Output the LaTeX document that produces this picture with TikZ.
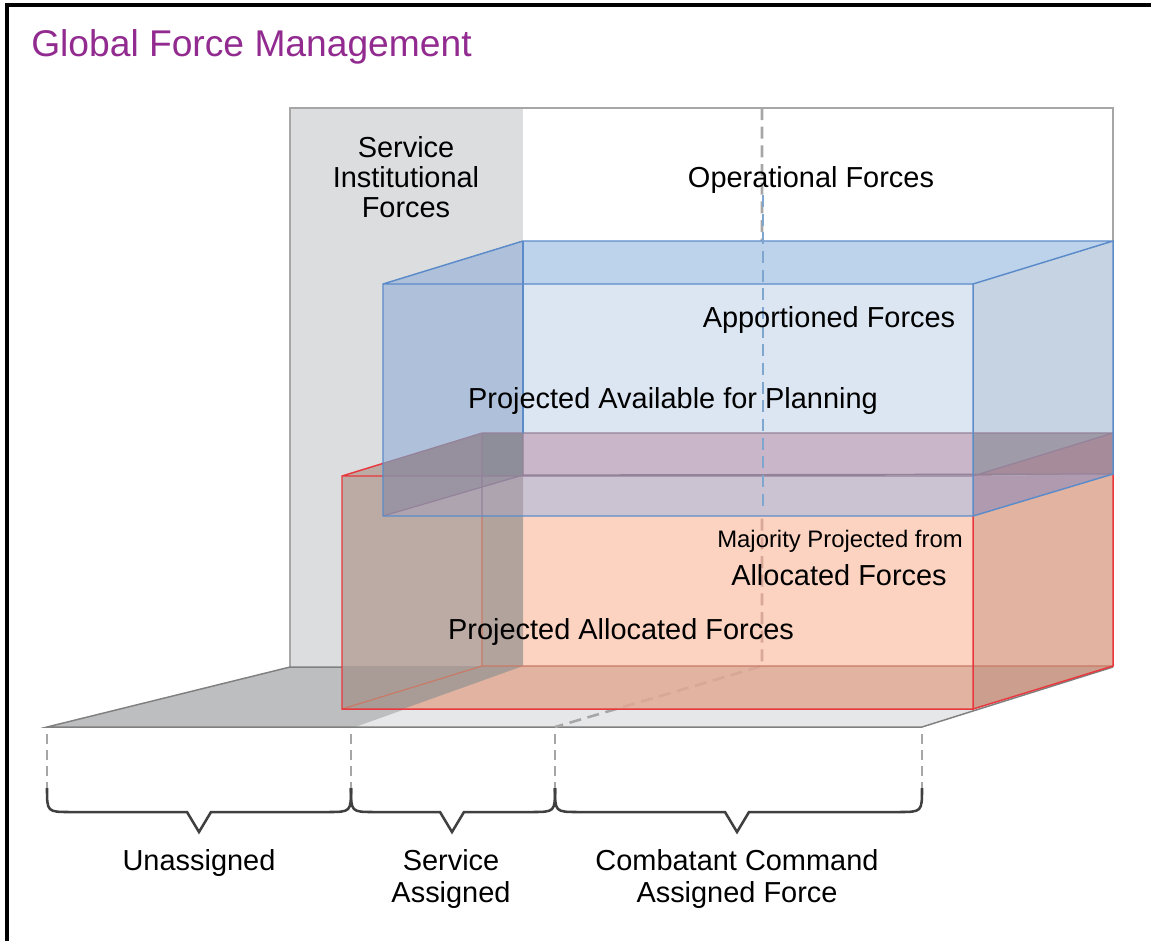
\documentclass[tikz,border=0pt]{standalone}
\usepackage{fontspec}
\setmainfont{Liberation Sans}
\definecolor{gfmpurple}{HTML}{922B8F}
\definecolor{wallgrey}{HTML}{DCDDDF}
\definecolor{floorlight}{HTML}{E6E7E8}
\definecolor{floordark}{HTML}{BDBEC0}
\definecolor{redfront}{HTML}{FCD3C1}
\definecolor{redside}{HTML}{E1B3A0}
\definecolor{redsidedark}{HTML}{CC9E8D}
\definecolor{redgrey}{HTML}{BCABA4}
\definecolor{redgreydark}{HTML}{B2A39C}
\definecolor{redfloor}{HTML}{A99C97}
\definecolor{bluetop}{HTML}{BDD3EC}
\definecolor{bluefront}{HTML}{DCE6F2}
\definecolor{blueside}{HTML}{C5D3E3}
\definecolor{bluegrey}{HTML}{AFC1DA}
\definecolor{ovtop}{HTML}{C9B6C8}
\definecolor{ovfront}{HTML}{CBC3D1}
\definecolor{ovsidea}{HTML}{A09BA8}
\definecolor{ovsideb}{HTML}{A68B9B}
\definecolor{ovsidec}{HTML}{B09AB0}
\definecolor{ovgreytop}{HTML}{96909E}
\definecolor{ovgreystrip}{HTML}{8D8E99}
\definecolor{ovgreya}{HTML}{9B94A2}
\definecolor{ovgreyb}{HTML}{ADA4B0}
\definecolor{rededge}{HTML}{E8383D}
\definecolor{redhid}{HTML}{C87A66}
\definecolor{blueedge}{HTML}{5B8BC9}
\definecolor{muted}{HTML}{94829A}
\definecolor{guidegrey}{HTML}{A6A6A6}
\definecolor{reddash}{HTML}{D8A797}
\definecolor{bluedash}{HTML}{7EA6CF}
\definecolor{bracecol}{HTML}{404040}
\tikzset{
  lbl/.style={font=\fontsize{21.7}{22.5}\selectfont, inner sep=0pt, align=center},
  guide/.style={draw=guidegrey, line width=1.9pt, dash pattern=on 9pt off 5pt},
  redline/.style={draw=rededge, line width=1.1pt},
  blueline/.style={draw=blueedge, line width=1.1pt},
  hidline/.style={draw=muted, line width=0.9pt},
  cbrace/.style={draw=bracecol, line width=1.9pt, line join=miter}
}
\begin{document}
\begin{tikzpicture}[x=0.75pt,y=-0.75pt]
\useasboundingbox (0,0) rectangle (1151,940);
\draw[line width=2.5pt] (7,960) -- (7,5) -- (1170,5);
\node[anchor=base west, inner sep=0pt, text=gfmpurple, font=\fontsize{27.9}{30}\selectfont] (title) at (31,56) {Global Force Management};

% back wall and floor
\fill[wallgrey] (290,108) rectangle (523,667);
\draw[guidegrey, line width=0.9pt] (290,667) -- (290,108) -- (1113,108) -- (1113,241);
\fill[floorlight] (47,727) -- (290,667) -- (1113,667) -- (922,727) -- cycle;
\fill[floordark] (47,727) -- (290,667) -- (523,667) -- (355,727) -- cycle;
\draw[gray, line width=1.1pt] (1113,667) -- (922,727) -- (47,727) -- (290,667) -- (1113,667);
\draw[guide] (762,108) -- (762,666) -- (555,727);

% allocated box
\fill[redfront] (342,476) rectangle (973,709);
\fill[redside] (973,476) -- (1113,433) -- (1113,666) -- (973,709) -- cycle;
\fill[redside] (482,666) -- (973,666) -- (973,709) -- (342,709) -- cycle;
\fill[redsidedark] (973,666) -- (1113,666) -- (973,709) -- cycle;
\fill[redgrey] (342,476) -- (482,433) -- (523,433) -- (523,666) -- (342,666) -- cycle;
\fill[redgreydark] (482,433) rectangle (523,666);
\fill[redfloor] (342,666) -- (523,666) -- (403,709) -- (342,709) -- cycle;
\begin{scope}
  \clip (342,476) -- (482,433) -- (1113,433) -- (1113,666) -- (973,709) -- (342,709) -- cycle;
  \draw[guide, draw=reddash] (762,108) -- (762,666) -- (555,727);
\end{scope}
\draw[redhid, line width=0.9pt] (482,433) -- (482,666) -- (1113,666) (482,666) -- (342,709);
\draw[redline] (342,476) rectangle (973,709) (342,476) -- (482,433) -- (1113,433) -- (1113,666) -- (973,709) (973,476) -- (1113,433);

% apportioned box
\fill[bluetop] (383,284) -- (523,241) -- (1113,241) -- (973,284) -- cycle;
\fill[blueside] (973,284) -- (1113,241) -- (1113,474) -- (973,516) -- cycle;
\fill[bluefront] (383,284) rectangle (973,516);
\fill[bluegrey] (383,284) -- (523,241) -- (523,516) -- (383,516) -- cycle;
\fill[ovtop] (523,433) rectangle (973,476);
\fill[ovfront] (523,476) rectangle (973,516);
\fill[ovsidea] (973,433) -- (1113,433) -- (973,476) -- cycle;
\fill[ovsideb] (973,476) -- (1113,433) -- (1113,474) -- cycle;
\fill[ovsidec] (973,476) -- (1113,474) -- (973,516) -- cycle;
\fill[ovgreytop] (383,463) -- (482,433) -- (523,433) -- (523,476) -- (383,476) -- cycle;
\fill[ovgreystrip] (482,433) rectangle (523,476);
\fill[ovgreya] (383,476) -- (523,476) -- (383,516) -- cycle;
\fill[ovgreyb] (523,476) -- (523,516) -- (383,516) -- cycle;
\begin{scope}
  \clip (383,284) -- (523,241) -- (1113,241) -- (1113,474) -- (973,516) -- (383,516) -- cycle;
  \draw[hidline] (342,476) -- (973,476) (342,476) -- (482,433) -- (1113,433) (973,476) -- (1113,433)
    (482,433) -- (482,516) (383,516) -- (523,475) -- (1113,474) (523,433) -- (523,475);
\end{scope}
\draw[blueline] (523,241) -- (523,433);
\draw[blueline] (383,284) rectangle (973,516) (383,284) -- (523,241) -- (1113,241) -- (1113,474) -- (973,516) (973,284) -- (1113,241);
\draw[guide, draw=bluedash] (763,195) -- (763,512);

% labels
\node[lbl] (sif) at (406,177) {Service\\Institutional\\Forces};
\node[lbl, anchor=base] (opf) at (811,187) {Operational Forces};
\node[lbl, anchor=base] (apf) at (829,327) {Apportioned Forces};
\node[lbl, anchor=base] (pap) at (673,408) {Projected Available for Planning};
\node[lbl, anchor=base, font=\fontsize{17.9}{20}\selectfont] (maj) at (840,547) {Majority Projected from};
\node[lbl, anchor=base] (alf) at (839,585) {Allocated Forces};
\node[lbl, anchor=base] (paf) at (621,639) {Projected Allocated Forces};

% assignment brackets
\foreach \x in {47,351,555,922}
  \draw[guide, dash pattern=on 7.5pt off 4.5pt] (\x,734) -- (\x,788);
\foreach \a/\b/\m in {47/351/199, 351/555/452, 555/922/737}
  \draw[cbrace] (\a,788) .. controls (\a,812) .. ({\a+24},812) -- ({\m-12},812) -- (\m,832)
    -- ({\m+12},812) -- ({\b-24},812) .. controls (\b,812) .. (\b,788);
\node[lbl, anchor=base] (una) at (199,870) {Unassigned};
\node[lbl, font=\fontsize{21.7}{24}\selectfont] (sas) at (451,879) {Service\\Assigned};
\node[lbl, font=\fontsize{21.7}{24}\selectfont] (cca) at (737,879) {Combatant Command\\Assigned Force};
\end{tikzpicture}
\end{document}
